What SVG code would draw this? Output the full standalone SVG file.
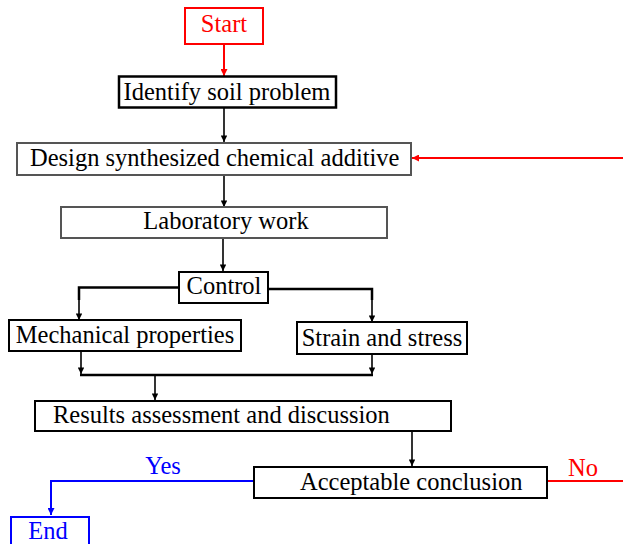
<svg xmlns="http://www.w3.org/2000/svg" width="623" height="544" viewBox="0 0 623 544">
<defs>
<style>
text{font-family:"Liberation Serif","Times New Roman",serif;font-size:24.5px;fill:#000}
.box{fill:#fff;stroke:#000;stroke-width:2}
.gbox{fill:#fff;stroke:#555;stroke-width:2}
.c{fill:none;stroke:#000;stroke-width:1.6}
.ct{fill:none;stroke:#000;stroke-width:2.5}
.r{fill:none;stroke:#f00;stroke-width:2}
.b{fill:none;stroke:#00f;stroke-width:2}
.mid{text-anchor:middle}
</style>
<marker id="ak" viewBox="0 0 10 10" refX="10" refY="5" markerWidth="12" markerHeight="6.5" markerUnits="userSpaceOnUse" orient="auto"><path d="M0,0L10,5L0,10z" fill="#000"/></marker>
<marker id="ar" viewBox="0 0 10 10" refX="10" refY="5" markerWidth="12" markerHeight="7" markerUnits="userSpaceOnUse" orient="auto"><path d="M0,0L10,5L0,10z" fill="#f00"/></marker>
<marker id="ab" viewBox="0 0 10 10" refX="10" refY="5" markerWidth="12" markerHeight="7" markerUnits="userSpaceOnUse" orient="auto"><path d="M0,0L10,5L0,10z" fill="#00f"/></marker>
</defs>
<rect width="623" height="544" fill="#fff"/>
<g id="connectors">
<path class="r" d="M224,44V76" marker-end="url(#ar)"/>
<path class="c" d="M224,108V142" marker-end="url(#ak)"/>
<path class="r" d="M623,158H412" marker-end="url(#ar)"/>
<path class="c" d="M224,176V207" marker-end="url(#ak)"/>
<path class="c" d="M223,239V271" marker-end="url(#ak)"/>
<path class="ct" d="M179,287.5H79V300"/>
<path class="c" d="M79,298V320" marker-end="url(#ak)"/>
<path class="ct" d="M268,289H372V300"/>
<path class="c" d="M372,298V322" marker-end="url(#ak)"/>
<path class="c" d="M81,352V374" marker-end="url(#ak)"/>
<path class="c" d="M372,355V374" marker-end="url(#ak)"/>
<path class="ct" d="M80,375H373"/>
<path class="c" d="M155,375V400" marker-end="url(#ak)"/>
<path class="c" d="M412,431V466" marker-end="url(#ak)"/>
<path class="b" d="M254,481H51V515" marker-end="url(#ab)"/>
<path class="r" d="M547,481H623"/>
<text x="163" y="474" class="mid" style="fill:#00f">Yes</text>
<text x="568" y="476" style="fill:#f00">No</text>
</g>
<g id="start">
<rect x="185" y="8" width="78" height="36" style="fill:#fff;stroke:#f00;stroke-width:2"/>
<text x="224" y="32" class="mid" style="fill:#f00">Start</text>
</g>
<g id="identify">
<rect x="119" y="76.5" width="217" height="31" class="box" style="stroke-width:2.5"/>
<text x="227" y="100" class="mid">Identify soil problem</text>
</g>
<g id="design">
<rect x="17" y="143" width="394" height="32" class="gbox"/>
<text x="30" y="166">Design synthesized chemical additive</text>
</g>
<g id="lab">
<rect x="61" y="207" width="326" height="31" class="gbox"/>
<text x="226" y="229" class="mid">Laboratory work</text>
</g>
<g id="control">
<rect x="179" y="272" width="89" height="31" class="box"/>
<text x="224" y="294" class="mid">Control</text>
</g>
<g id="mechanical">
<rect x="9" y="320" width="232" height="31" class="box"/>
<text x="125" y="343" class="mid">Mechanical properties</text>
</g>
<g id="strain">
<rect x="297" y="322" width="170" height="32" class="box"/>
<text x="382" y="346" class="mid">Strain and stress</text>
</g>
<g id="results">
<rect x="35" y="401" width="416" height="30" class="box"/>
<text x="53" y="423">Results assessment and discussion</text>
</g>
<g id="acceptable">
<rect x="254" y="467" width="293" height="31" class="box"/>
<text x="300" y="490">Acceptable conclusion</text>
</g>
<g id="end">
<rect x="11" y="517" width="78" height="30" style="fill:#fff;stroke:#00f;stroke-width:2"/>
<text x="48" y="539" class="mid" style="fill:#00f">End</text>
</g>
</svg>
